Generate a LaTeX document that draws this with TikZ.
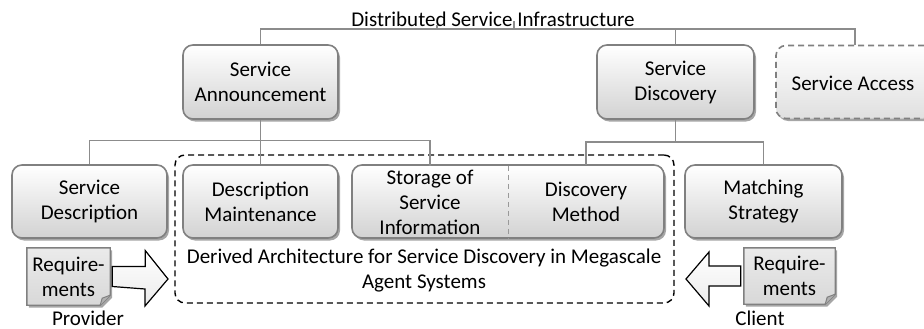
\documentclass[tikz,border=0pt]{standalone}
\usepackage{fontspec}
\setmainfont{Carlito}
\usetikzlibrary{shadows,calc}
\definecolor{bord}{HTML}{808080}
\definecolor{boxbot}{HTML}{D2D2D2}
\definecolor{conncol}{HTML}{8C8C8C}
\definecolor{docfill}{HTML}{D8D8D8}
\definecolor{foldcol}{HTML}{B0B0B0}
\begin{document}
\begin{tikzpicture}[x=1pt,y=-1pt,
  txt/.style={font=\fontsize{21}{25}\selectfont, align=center, inner sep=0pt},
  shad/.style={drop shadow={shadow xshift=2pt, shadow yshift=-2.5pt, opacity=0.35, fill=black}},
  box/.style={txt, draw=bord, line width=1.6pt, rounded corners=10pt, top color=white, bottom color=boxbot, shad},
  dbox/.style={box, dashed, dash pattern=on 6pt off 4pt, top color=white, bottom color=boxbot!70},
  conn/.style={draw=conncol, line width=1.4pt},
  blockarrow/.style={draw=black, line width=1.2pt, top color=white, bottom color=white!92!black, line join=miter},
  docshape/.style={draw=bord, line width=1.4pt, top color=white!92!black, bottom color=docfill, shad},
]
\useasboundingbox (0,0) rectangle (924,329);

% title
\node[txt] (title) at (493,19) {Distributed Service Infrastructure};

% top level boxes
\node[box, minimum width=155pt, minimum height=74pt] (sa) at (260.5,82) {Service\\Announcement};
\node[box, minimum width=157pt, minimum height=74pt] (sd) at (675.5,82) {Service\\Discovery};
\node[dbox, minimum width=158pt, minimum height=73pt] (sacc) at (855,82) {};
\node[txt] (sacctxt) at (853,83) {Service Access};

% derived architecture frame
\node[draw=black, line width=1.4pt, dashed, dash pattern=on 6pt off 4pt, rounded corners=10pt, minimum width=499pt, minimum height=148pt, inner sep=0pt] (arch) at (424.5,229) {};

% bottom row
\node[box, minimum width=155pt, minimum height=73pt] (sdesc) at (89.5,201.5) {Service\\Description};
\node[box, minimum width=155pt, minimum height=73pt] (dmaint) at (260.5,201.5) {Description\\Maintenance};
\node[box, minimum width=312pt, minimum height=73pt] (comb) at (508,201.5) {};
\node[txt, minimum width=156pt, minimum height=73pt] (stor) at (430,202.5) {Storage of\\Service\\Information};
\node[txt, minimum width=156pt, minimum height=73pt] (dmeth) at (586,201.5) {Discovery\\Method};
\draw[draw=bord!80, line width=1.2pt, dashed, dash pattern=on 5pt off 4pt] (stor.north east) -- (stor.south east);
\node[box, minimum width=157pt, minimum height=73pt] (match) at (763.5,201.5) {Matching\\Strategy};

\node[txt] (archtxt) at (424,271) {Derived Architecture for Service Discovery in Megascale\\Agent Systems};

% connectors
\coordinate (t1) at (437,25);
\coordinate (t2) at (514,21);
\coordinate (b1) at (437,30);
\coordinate (b2) at (514,30);
\draw[conn] (sa.north) -- ++(0,-15) -| (sacc.north);
\draw[conn] (sd.north) -- ++(0,-15);
\draw[conn] (b1) -- (t1);
\draw[conn] (b2) -- (t2);
\draw[conn] (sdesc.north) -- ++(0,-24) -| (stor.north);
\draw[conn] (sa.south) -- (dmaint.north);
\draw[conn] (dmeth.north) -- ++(0,-23) -| (match.north);
\draw[conn] (sd.south) -- ++(0,23);

% requirement documents
\node[txt, minimum width=83pt, minimum height=57pt] (reql) at (68.5,276.5) {};
\path[docshape] (reql.north west) -- (reql.north east) -- ($(reql.south east)+(0,-10)$) -- ($(reql.south east)+(-10,0)$) -- (reql.south west) -- cycle;
\draw[draw=bord, line width=1pt, fill=foldcol] ($(reql.south east)+(0,-10)$) -- ($(reql.south east)+(-8,-7)$) -- ($(reql.south east)+(-10,0)$);
\node[txt] at (reql) {Require-\\ments};

\node[txt, minimum width=91pt, minimum height=56pt] (reqr) at (789.5,276) {};
\path[docshape] (reqr.north west) -- (reqr.north east) -- ($(reqr.south east)+(0,-10)$) -- ($(reqr.south east)+(-10,0)$) -- (reqr.south west) -- cycle;
\draw[draw=bord, line width=1pt, fill=foldcol] ($(reqr.south east)+(0,-10)$) -- ($(reqr.south east)+(-8,-7)$) -- ($(reqr.south east)+(-10,0)$);
\node[txt] at (reqr) {Require-\\ments};

\node[txt] (prov) at (88,318) {Provider};
\node[txt] (cli) at (760,318) {Client};

% block arrows
\coordinate (la) at (reql.east);
\path[blockarrow] ($(la)+(2,-10)$) -- ++(33,0) -- ++(0,-16) -- (168,279) -- (145,306) -- ++(0,-17) -- ($(la)+(2,10)$) -- cycle;
\coordinate (ra) at (reqr.west);
\path[blockarrow] ($(ra)+(-3,-10)$) -- (709,266) -- (709,252) -- (686,279) -- (709,306) -- (709,286) -- ($(ra)+(-3,10)$) -- cycle;
\end{tikzpicture}
\end{document}
